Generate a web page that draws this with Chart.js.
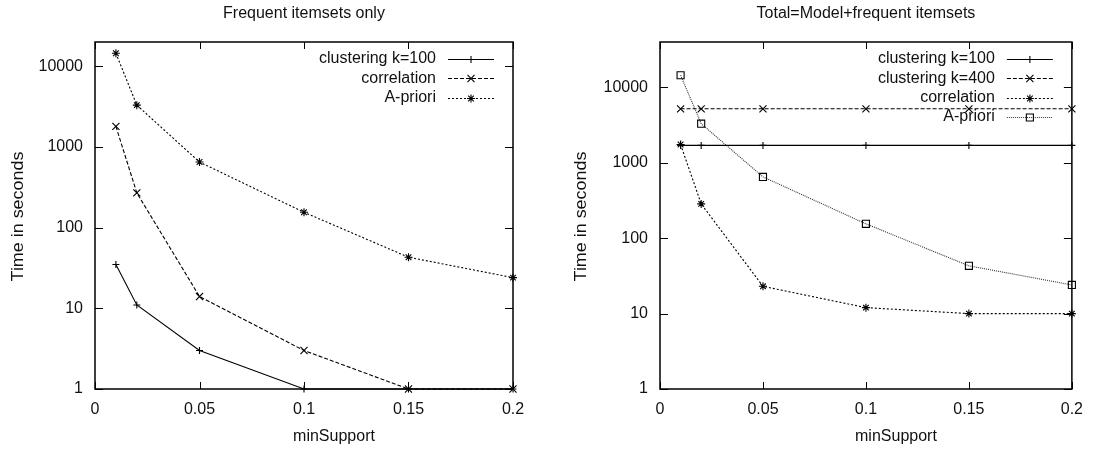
<!DOCTYPE html>
<html>
<head>
<meta charset="utf-8">
<script src="https://cdn.jsdelivr.net/npm/chart.js@4.4.1/dist/chart.umd.min.js"></script>
<style>
  body { margin: 0; background: #fff; }
  .wrap { display: flex; width: 1094px; height: 449px; }
  canvas { display: block; }
</style>
</head>
<body>
<div class="wrap">
  <canvas id="freqChart" width="547" height="449"></canvas>
  <canvas id="totalChart" width="547" height="449"></canvas>
</div>
<script>
// x values and axis ticks
const minSupport = [0.01, 0.02, 0.05, 0.1, 0.15, 0.2];
const xTicks = [0, 0.05, 0.1, 0.15, 0.2];
const yTicks = [1, 10, 100, 1000, 10000];

// Frequent itemsets only
const freqClustering100 = [35, 11, 3, 1, 1, 1];
const freqCorrelation = [1800, 270, 14, 3, 1, 1];
const freqApriori = [14500, 3300, 650, 155, 43, 24];

// Total = Model + frequent itemsets
const totalClustering100 = [1700, 1700, 1700, 1700, 1700, 1700];
const totalClustering400 = [5200, 5200, 5200, 5200, 5200, 5200];
const totalCorrelation = [1750, 285, 23, 12, 10, 10];
const totalApriori = [14500, 3300, 650, 155, 43, 24];

const FONT = '"Liberation Sans", Arial, Helvetica, sans-serif';
const TEXT = '#111';

function series(label, values, style, radius, dash, color) {
    color = color || '#000';
    return {
        label: label,
        data: minSupport.map((s, i) => ({ x: s, y: values[i] })),
        borderColor: color,
        borderWidth: 1.1,
        borderDash: dash,
        pointStyle: style,
        pointRadius: radius,
        pointBorderColor: '#000',
        pointBackgroundColor: 'rgba(0,0,0,0)',
        pointBorderWidth: 1.1,
        tension: 0,
        fill: false,
        clip: false
    };
}

// gnuplot style frame: inward ticks, titles and legend on the right
const gnuplotFrame = {
    id: 'gnuplotFrame',
    afterDraw(chart) {
        const { ctx, chartArea: a, scales } = chart;
        const o = chart.options.plugins.gnuplotFrame;
        ctx.save();
        ctx.strokeStyle = '#000';
        ctx.lineWidth = 1;
        ctx.beginPath();
        xTicks.forEach(v => {
            const px = Math.round(scales.x.getPixelForValue(v)) + 0.5;
            ctx.moveTo(px, a.bottom); ctx.lineTo(px, a.bottom - 7);
            ctx.moveTo(px, a.top); ctx.lineTo(px, a.top + 7);
        });
        yTicks.forEach(v => {
            const py = Math.round(scales.y.getPixelForValue(v)) + 0.5;
            ctx.moveTo(a.left, py); ctx.lineTo(a.left + 8, py);
            ctx.moveTo(a.right, py); ctx.lineTo(a.right - 8, py);
        });
        ctx.stroke();
        ctx.lineWidth = 1.5;
        ctx.strokeRect(a.left, a.top, a.right - a.left, a.bottom - a.top);

        // titles
        ctx.fillStyle = TEXT;
        ctx.font = '16px ' + FONT;
        ctx.textAlign = 'center';
        ctx.textBaseline = 'middle';
        ctx.fillText(o.title, (a.left + a.right) / 2, 14);
        ctx.fillText('minSupport', (a.left + a.right) / 2 + 30, 437);
        ctx.save();
        ctx.translate(o.yTitleX, (a.top + a.bottom) / 2 + 1);
        ctx.rotate(-Math.PI / 2);
        ctx.scale(1.12, 1);
        ctx.fillText('Time in seconds', 0, 0);
        ctx.restore();

        // legend
        chart.data.datasets.forEach((ds, i) => {
            const ly = a.top + 17 + i * 19.3;
            ctx.fillStyle = TEXT;
            ctx.textAlign = 'right';
            ctx.fillText(ds.label, a.right - 77, ly);
            ctx.save();
            ctx.strokeStyle = ds.borderColor;
            ctx.lineWidth = ds.borderWidth;
            ctx.setLineDash(ds.borderDash || []);
            ctx.beginPath();
            ctx.moveTo(a.right - 65, Math.round(ly) + 0.5);
            ctx.lineTo(a.right - 19, Math.round(ly) + 0.5);
            ctx.stroke();
            ctx.setLineDash([]);
            ctx.fillStyle = 'rgba(0,0,0,0)';
            ctx.strokeStyle = '#000';
            Chart.helpers.drawPoint(ctx, {
                pointStyle: ds.pointStyle, radius: ds.pointRadius,
                borderWidth: 1, rotation: 0
            }, a.right - 42, Math.round(ly) + 0.5);
            ctx.restore();
        });
        ctx.restore();
    }
};

function makeChart(id, datasets, o) {
    return new Chart(document.getElementById(id), {
        type: 'line',
        data: { datasets: datasets },
        plugins: [gnuplotFrame],
        options: {
            responsive: false,
            animation: false,
            devicePixelRatio: 1,
            events: [],
            layout: { padding: { top: 42, right: o.padRight, bottom: 0, left: 0 } },
            plugins: {
                legend: { display: false },
                title: { display: false },
                tooltip: { enabled: false },
                gnuplotFrame: { title: o.title, yTitleX: o.yTitleX }
            },
            scales: {
                x: {
                    type: 'linear',
                    min: 0,
                    max: 0.2,
                    afterBuildTicks: s => { s.ticks = xTicks.map(v => ({ value: v })); },
                    afterFit: s => { s.height = 60; },
                    grid: { display: false, drawTicks: false },
                    border: { display: false },
                    ticks: {
                        font: { size: 16, family: FONT }, color: TEXT, padding: 11,
                        autoSkip: false, maxRotation: 0, callback: v => String(v)
                    }
                },
                y: {
                    type: 'logarithmic',
                    min: 1,
                    max: o.yMax,
                    afterBuildTicks: s => { s.ticks = yTicks.map(v => ({ value: v })); },
                    afterFit: s => { s.width = o.yWidth; },
                    grid: { display: false, drawTicks: false },
                    border: { display: false },
                    ticks: {
                        font: { size: 16, family: FONT }, color: TEXT, padding: 12,
                        autoSkip: false, callback: v => String(v)
                    }
                }
            }
        }
    });
}

makeChart('freqChart', [
    series('clustering k=100', freqClustering100, 'cross', 3.5, []),
    series('correlation', freqCorrelation, 'crossRot', 5, [4, 2]),
    series('A-priori', freqApriori, 'star', 4, [2, 2])
], { title: 'Frequent itemsets only', yMax: 20000, yWidth: 95, padRight: 34, yTitleX: 19 });

makeChart('totalChart', [
    series('clustering k=100', totalClustering100, 'cross', 3.5, []),
    series('clustering k=400', totalClustering400, 'crossRot', 5, [4, 2]),
    series('correlation', totalCorrelation, 'star', 4, [2, 2]),
    series('A-priori', totalApriori, 'rect', 5, [1, 1], '#333')
], { title: 'Total=Model+frequent itemsets', yMax: 40000, yWidth: 113, padRight: 16, yTitleX: 35 });
</script>
</body>
</html>
